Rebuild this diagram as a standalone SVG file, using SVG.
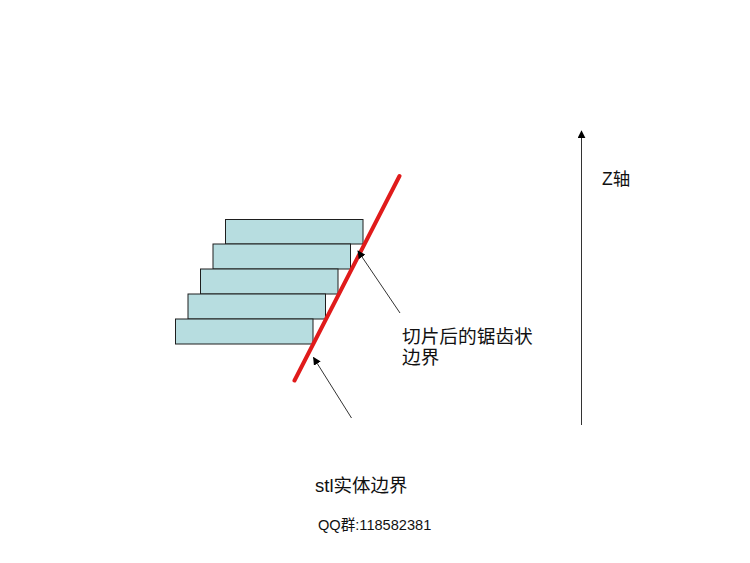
<svg xmlns="http://www.w3.org/2000/svg" width="750" height="563" viewBox="0 0 750 563">
<style>
.slab{fill:#b7dde0;stroke:#1e1e1e;stroke-width:1}
.lbl{font-family:"Liberation Sans","Noto Sans CJK SC",sans-serif;fill:#111}
.ptr{stroke:#333;stroke-width:1;fill:none}
</style>
<defs>
<marker id="ah" viewBox="0 0 10 10" refX="9" refY="5" markerWidth="8" markerHeight="8" markerUnits="userSpaceOnUse" orient="auto">
<path d="M0,0 L10,5 L0,10 z" fill="#000"/>
</marker>
</defs>
<rect width="750" height="563" fill="#fff"/>
<g id="slices">
<rect id="slice1" class="slab" x="225.5" y="219.5" width="137.5" height="24.5"/>
<rect id="slice2" class="slab" x="213" y="244" width="137.5" height="25"/>
<rect id="slice3" class="slab" x="200.5" y="269" width="137.5" height="25"/>
<rect id="slice4" class="slab" x="188" y="294" width="137.5" height="25"/>
<rect id="slice5" class="slab" x="175.5" y="319" width="137.5" height="25"/>
</g>
<g id="stl-boundary">
<line x1="399.5" y1="176" x2="294.5" y2="380.5" stroke="#e01b1b" stroke-width="4" stroke-linecap="round"/>
</g>
<g id="connectors">
<line class="ptr" x1="400" y1="313" x2="358" y2="251" marker-end="url(#ah)"/>
<line class="ptr" x1="351.5" y1="418" x2="313.5" y2="357.5" marker-end="url(#ah)"/>
<line class="ptr" x1="581.5" y1="425" x2="581.5" y2="131" marker-end="url(#ah)"/>
</g>
<g id="labels">
<text class="lbl" x="402" y="343" font-size="18.7">切片后的锯齿状</text>
<text class="lbl" x="402" y="364" font-size="18.7">边界</text>
<text class="lbl" x="315" y="492" font-size="18.5">stl实体边界</text>
<text class="lbl" x="318" y="530" font-size="14.6">QQ群:118582381</text>
<text class="lbl" x="602" y="185" font-size="17.5">Z轴</text>
</g>
</svg>
